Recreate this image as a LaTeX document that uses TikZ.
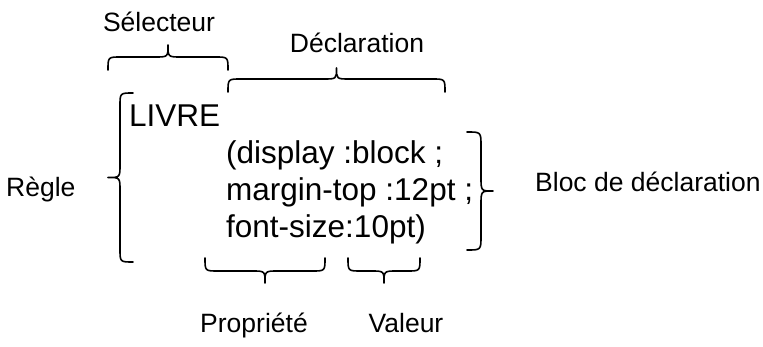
\documentclass[tikz,border=0pt]{standalone}
\usepackage{fontspec}
\setmainfont{Liberation Sans}
\newcommand\mybraceh[5]{%
 \pgfmathsetmacro\bm{(#1+#2)/2}%
 \pgfmathsetmacro\rr{abs(#3-#4)}%
 \draw[br] (#1,#3) .. controls (#1,#4) .. ({#1+\rr},#4) -- ({\bm-\rr},#4) .. controls (\bm,#4) .. (\bm,#5) .. controls (\bm,#4) .. ({\bm+\rr},#4) -- ({#2-\rr},#4) .. controls (#2,#4) .. (#2,#3);}
\newcommand\mybracev[5]{%
 \pgfmathsetmacro\bm{(#1+#2)/2}%
 \pgfmathsetmacro\rr{abs(#3-#4)}%
 \draw[br] (#3,#1) .. controls (#4,#1) .. (#4,{#1+\rr}) -- (#4,{\bm-\rr}) .. controls (#4,\bm) .. (#5,\bm) .. controls (#4,\bm) .. (#4,{\bm+\rr}) -- (#4,{#2-\rr}) .. controls (#4,#2) .. (#3,#2);}
\tikzset{
 br/.style={line width=1.6pt, line join=round, line cap=round},
 lbl/.style={font=\fontsize{26.5}{30}\selectfont, inner sep=0pt},
 code/.style={font=\fontsize{31.5}{37}\selectfont, inner sep=0pt, anchor=base west}
}
\begin{document}
\begin{tikzpicture}[x=1pt,y=-1pt]
\useasboundingbox[fill=white] (0,0) rectangle (763,347);
% labels
\node[lbl, anchor=base] (sel) at (159,32) {Sélecteur};
\node[lbl, anchor=base] (decl) at (357,53) {Déclaration};
\node[lbl, anchor=base west] (regle) at (6,197) {Règle};
\node[lbl, anchor=base west] (bloc) at (535,192) {Bloc de déclaration};
\node[lbl, anchor=base] (prop) at (254,333) {Propriété};
\node[lbl, anchor=base] (val) at (406,333) {Valeur};
% code
\node[code] (livre) at (129,127) {LIVRE};
\node[code] (l1) at (226,164) {(display :block ;};
\node[code] (l2) at (226,201) {margin-top :12pt ;};
\node[code] (l3) at (226,238) {font-size:10pt)};
% braces
\mybraceh{108}{228}{70}{57}{45}
\mybraceh{228}{445}{92}{79}{68}
\mybraceh{205}{325}{258}{271}{283}
\mybraceh{348}{420}{258}{271}{283}
\mybracev{93}{262}{133}{120}{108}
\mybracev{132}{250}{467}{481}{493}
\end{tikzpicture}
\end{document}
